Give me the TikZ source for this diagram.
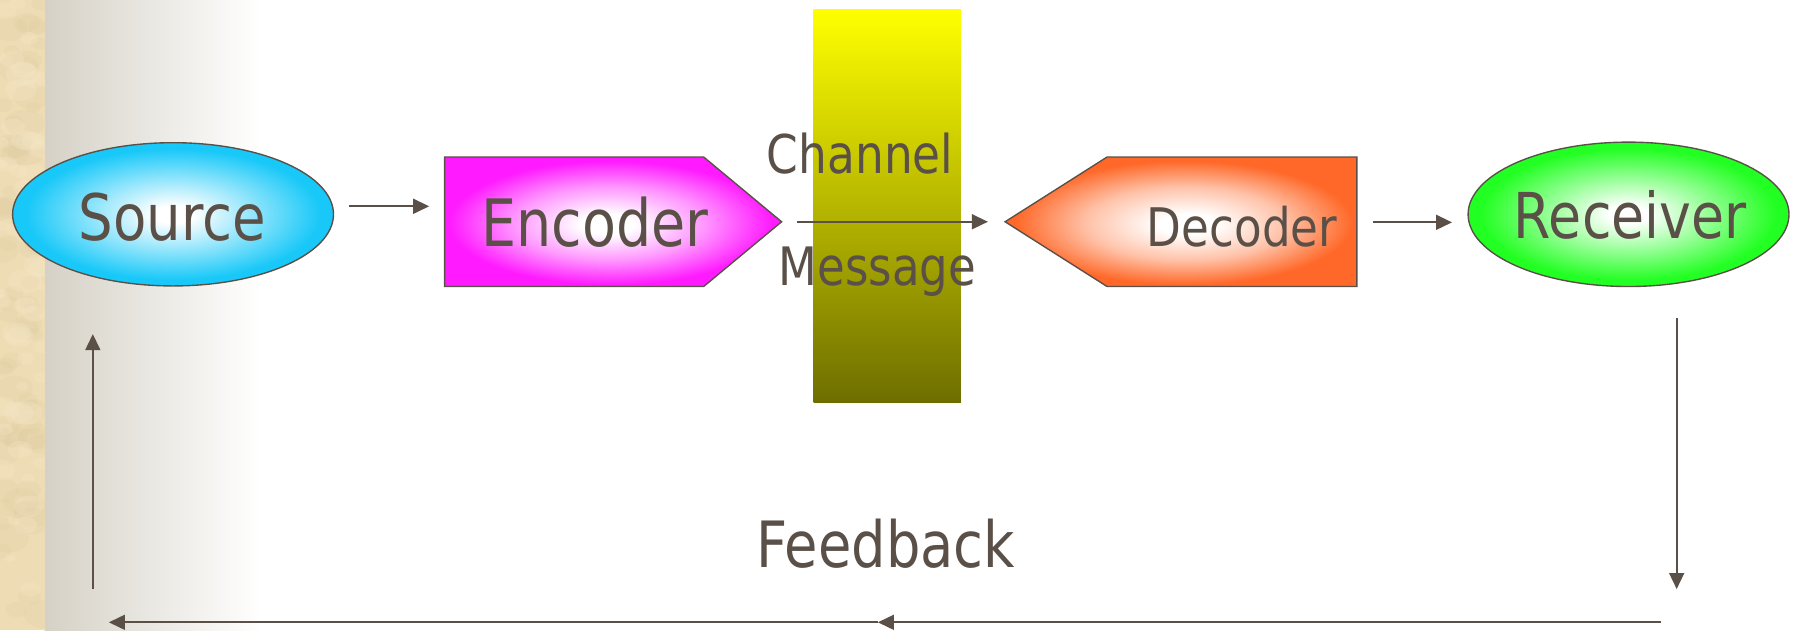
\documentclass[tikz,border=0pt]{standalone}
\usepackage{fontspec}
\setmainfont{DejaVu Sans}
\usepackage{graphicx}
\usetikzlibrary{shapes.geometric,arrows.meta,calc}
\definecolor{ln}{HTML}{5A5048}
\definecolor{txt}{HTML}{5A5048}
\definecolor{cyanC}{HTML}{18C8F8}
\definecolor{magC}{HTML}{FF1AFF}
\definecolor{orgC}{HTML}{FF6828}
\definecolor{grnC}{HTML}{22FF22}
\definecolor{yelC}{HTML}{FFFF00}
\definecolor{olvC}{HTML}{6E6E00}
\definecolor{parch}{HTML}{EEDCB4}
\definecolor{parchD}{HTML}{D9C59A}
\definecolor{parchL}{HTML}{F7EACB}
\definecolor{fadeC}{HTML}{D5D1C6}
\colorlet{cyanM}{cyanC!50!white}
\colorlet{magM}{magC!45!white}
\colorlet{orgM}{orgC!40!white}
\colorlet{grnM}{grnC!50!white}
\pgfdeclareradialshading{srcsh}{\pgfpointorigin}{color(0bp)=(white); color(3bp)=(white); color(13bp)=(cyanM); color(23bp)=(cyanC); color(40bp)=(cyanC)}
\pgfdeclareradialshading{encsh}{\pgfpoint{-1bp}{-1bp}}{color(0bp)=(white); color(4bp)=(white); color(14bp)=(magM); color(24bp)=(magC); color(40bp)=(magC)}
\pgfdeclareradialshading{decsh}{\pgfpoint{1bp}{-1bp}}{color(0bp)=(white); color(4bp)=(white); color(14bp)=(orgM); color(24bp)=(orgC); color(40bp)=(orgC)}
\pgfdeclareradialshading{recsh}{\pgfpointorigin}{color(0bp)=(white); color(3bp)=(white); color(13bp)=(grnM); color(23bp)=(grnC); color(40bp)=(grnC)}
\pgfdeclareverticalshading{chansh}{100bp}{color(0bp)=(olvC); color(25bp)=(olvC); color(75bp)=(yelC); color(100bp)=(yelC)}
\pgfdeclarehorizontalshading{fadesh}{100bp}{color(0bp)=(fadeC); color(25bp)=(fadeC); color(75bp)=(white); color(100bp)=(white)}
\newcommand\tx[2]{\fontsize{#1}{#1}\selectfont\scalebox{0.85}[1]{#2}}
\begin{document}
\begin{tikzpicture}[x=1pt,y=-1pt,
  arr/.style={draw=ln, line width=1.7pt, -{Triangle[length=14pt,width=13pt]}},
  lbl/.style={text=txt, inner sep=0pt, anchor=base},
  shapeline/.style={draw=ln, line width=1.2pt},
  box/.style={inner sep=0pt, outer sep=0pt}]
\useasboundingbox (0,0) rectangle (1568,550);
\fill[white] (0,0) rectangle (1568,550);
\shade[shading=fadesh] (39,0) rectangle (228,550);
% parchment strip
\fill[parch] (0,0) rectangle (39,550);
\begin{scope}
\clip (0,0) rectangle (39,550);
\pgfmathsetseed{11}
\foreach \i in {1,...,70}{
  \pgfmathsetmacro{\xx}{rnd*39}
  \pgfmathsetmacro{\yy}{rnd*550}
  \pgfmathsetmacro{\rr}{6+rnd*12}
  \fill[parchD, opacity=0.15] (\xx,\yy) ellipse ({\rr} and {\rr*0.7});
}
\foreach \i in {1,...,50}{
  \pgfmathsetmacro{\xx}{rnd*39}
  \pgfmathsetmacro{\yy}{rnd*550}
  \pgfmathsetmacro{\rr}{5+rnd*10}
  \fill[parchL, opacity=0.25] (\xx,\yy) ellipse ({\rr} and {\rr*0.7});
}
\end{scope}
% channel bar
\shade[shading=chansh] (710,8) rectangle (838.5,351);
% shapes
\node[box, ellipse, minimum width=280pt, minimum height=125pt, shapeline, shade, shading=srcsh] (src) at (151,187) {};
\node[box, minimum width=294pt, minimum height=113pt] (enc) at (535,193.5) {};
\path[shapeline, shade, shading=encsh] (enc.north west) -- ($(enc.north east)+(-68,0)$) -- (enc.east) -- ($(enc.south east)+(-68,0)$) -- (enc.south west) -- cycle;
\node[box, minimum width=307pt, minimum height=113pt] (dec) at (1030.5,193.5) {};
\path[shapeline, shade, shading=decsh] (dec.west) -- ($(dec.north west)+(89,0)$) -- (dec.north east) -- (dec.south east) -- ($(dec.south west)+(89,0)$) -- cycle;
\node[box, ellipse, minimum width=280pt, minimum height=126pt, shapeline, shade, shading=recsh] (rec) at (1421,187) {};
% labels
\node[lbl] (srcT) at (150.5,210) {\tx{56}{Source}};
\node[lbl] (encT) at (519,215) {\tx{57}{Encoder}};
\node[lbl] (chT) at (750.5,151.3) {\tx{46.6}{Channel}};
\node[lbl] (msT) at (765.6,248.7) {\tx{46.2}{Message}};
\node[lbl] (decT) at (1083.8,214.7) {\tx{46.4}{Decoder}};
\node[lbl] (recT) at (1422.5,208.5) {\tx{55.2}{Receiver}};
\node[lbl] (fbT) at (773,494.8) {\tx{55.7}{Feedback}};
% connector end points
\coordinate (a1s) at ($(src.east)+(13.5,-7)$);
\coordinate (a1e) at ($(enc.west)+(-13.5,-13.5)$);
\coordinate (a2s) at ($(enc.east)+(13.5,0)$);
\coordinate (a2e) at ($(dec.west)+(-15,0)$);
\coordinate (a3s) at ($(dec.east)+(14,0.5)$);
\coordinate (a3e) at ($(rec.west)+(-14,7)$);
\coordinate (fbA) at ($(rec.south)+(42,27.5)$);
\coordinate (fbB) at ($(rec.south)+(42,264)$);
\coordinate (fbC) at (1449,543);
\coordinate (fbD) at (766,543);
\coordinate (fbE) at (95,543);
\coordinate (fbF) at (81,514);
\coordinate (fbG) at ($(src.south)+(-70,42)$);
% connectors
\draw[arr] (a1s) -- (a1e);
\draw[arr] (a2s) -- (a2e);
\draw[arr] (a3s) -- (a3e);
\draw[arr] (fbA) -- (fbB);
\draw[arr] (fbC) -- (fbD);
\draw[arr] (fbD) -- (fbE);
\draw[arr] (fbF) -- (fbG);
\end{tikzpicture}
\end{document}
